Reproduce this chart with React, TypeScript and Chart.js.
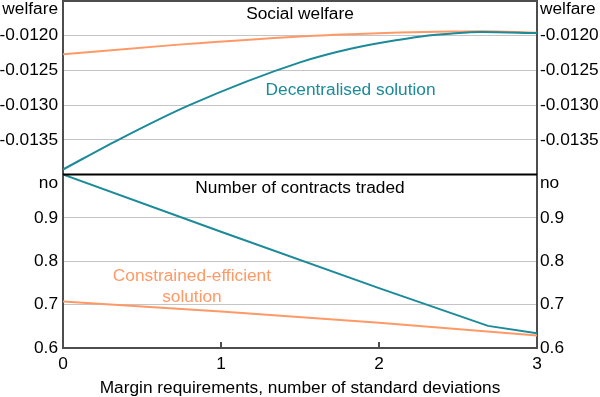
import React, { useEffect, useRef } from 'react';
import { Chart, registerables } from 'chart.js';

Chart.register(...registerables);

// ---- Data ----
const welfareDecX = [0, 0.35, 0.8, 1.5, 1.82, 2.13, 2.3, 2.45, 2.65, 3];
const welfareDecY = [-0.013928, -0.0135, -0.013, -0.012384, -0.012188, -0.012058, -0.012, -0.011971, -0.011948, -0.011962];
const welfareConX = [0, 0.75, 1.5, 1.82, 2.13, 2.45, 2.65, 3];
const welfareConY = [-0.012269, -0.012125, -0.01201, -0.011978, -0.011955, -0.01194, -0.011935, -0.011957];
const contractsDecX = [0, 1, 2, 2.69, 3];
const contractsDecY = [1.0, 0.868, 0.738, 0.651, 0.634];
const contractsConX = [0, 1, 2, 3];
const contractsConY = [0.707, 0.684, 0.658, 0.629];

const xTicks = [0, 1, 2, 3];
const welfareTicks = [-0.014, -0.0135, -0.013, -0.0125, -0.012, -0.0115];
const contractsTicks = [0.6, 0.7, 0.8, 0.9, 1.0];

const TEAL = '#1b8a99';
const ORANGE = '#ff9966';
const FONT = '"Liberation Sans", Arial, sans-serif';
const FS = 17.3;

const pts = (xs: number[], ys: number[]) => xs.map((x, i) => ({ x, y: ys[i] }));

const overlay = {
  id: 'overlay',
  afterDraw(chart: any) {
    const ctx = chart.ctx;
    const { left, right } = chart.chartArea;
    const yTop = chart.scales.yTop;
    const yBot = chart.scales.yBot;
    const xs = chart.scales.x;
    ctx.save();
    ctx.lineCap = 'butt';
    // top border
    ctx.strokeStyle = '#4d4d4d';
    ctx.lineWidth = 2;
    ctx.beginPath();
    ctx.moveTo(left - 1, yTop.top);
    ctx.lineTo(right + 1, yTop.top);
    ctx.stroke();
    // divider
    ctx.strokeStyle = '#000';
    ctx.beginPath();
    ctx.moveTo(left, yTop.bottom);
    ctx.lineTo(right, yTop.bottom);
    ctx.stroke();
    // inner x tick marks
    ctx.strokeStyle = '#4d4d4d';
    xTicks.slice(1, -1).forEach((v) => {
      const px = Math.round(xs.getPixelForValue(v));
      ctx.beginPath();
      ctx.moveTo(px, yBot.bottom);
      ctx.lineTo(px, yBot.bottom - 6);
      ctx.stroke();
    });
    // panel titles
    ctx.font = `${FS}px ${FONT}`;
    ctx.fillStyle = '#000';
    ctx.textBaseline = 'middle';
    ctx.textAlign = 'center';
    const cx = (left + right) / 2;
    ctx.fillText('Social welfare', cx, yTop.top + 13);
    ctx.fillText('Number of contracts traded', cx, yBot.top + 14);
    // units
    ctx.textAlign = 'right';
    ctx.fillText('welfare', left - 5, yTop.top + 8);
    ctx.fillText('no', left - 5, yBot.top + 9);
    ctx.textAlign = 'left';
    ctx.fillText('welfare', right + 3, yTop.top + 8);
    ctx.fillText('no', right + 3, yBot.top + 9);
    // annotations
    ctx.textAlign = 'center';
    ctx.fillStyle = TEAL;
    ctx.fillText('Decentralised solution', xs.getPixelForValue(1.82), yTop.getPixelForValue(-0.012788));
    ctx.fillStyle = ORANGE;
    ctx.fillText('Constrained-efficient', xs.getPixelForValue(0.816), yBot.getPixelForValue(0.766));
    ctx.fillText('solution', xs.getPixelForValue(0.816), yBot.getPixelForValue(0.7175));
    ctx.restore();
  },
};

export default function App() {
  const ref = useRef<HTMLCanvasElement>(null);

  useEffect(() => {
    if (!ref.current) return;
    Chart.defaults.font.family = FONT;
    Chart.defaults.font.size = FS;
    Chart.defaults.color = '#000';

    const yBase = (pos: 'left' | 'right', stack: string, values: number[], cb: (v: number) => string, grid: boolean) => ({
      type: 'linear' as const,
      position: pos,
      stack,
      stackWeight: 1,
      min: values[0],
      max: values[values.length - 1],
      afterBuildTicks: (s: any) => { s.ticks = values.map((v) => ({ value: v })); },
      afterFit: (s: any) => { s.width = 63; s.paddingTop = 0; s.paddingBottom = 0; },
      ticks: { padding: pos === 'left' ? 5 : 3, autoSkip: false, callback: (v: any) => cb(Number(v)), font: { size: FS } },
      grid: { display: true, drawOnChartArea: grid, drawTicks: false, color: '#c4c4c4', lineWidth: 1 },
      border: { display: true, color: '#4d4d4d', width: 2 },
    });

    const welfareCb = (n: number) => (n > -0.01175 || n < -0.01385 ? '' : n.toFixed(4));
    const contractsCb = (n: number) => (n > 0.95 ? '' : n.toFixed(1));

    const chart = new Chart(ref.current, {
      type: 'line',
      data: {
        datasets: [
          { label: 'Decentralised welfare', data: pts(welfareDecX, welfareDecY), yAxisID: 'yTop', borderColor: TEAL, borderWidth: 2, pointRadius: 0, cubicInterpolationMode: 'monotone' },
          { label: 'Constrained welfare', data: pts(welfareConX, welfareConY), yAxisID: 'yTop', borderColor: ORANGE, borderWidth: 2, pointRadius: 0, cubicInterpolationMode: 'monotone' },
          { label: 'Decentralised contracts', data: pts(contractsDecX, contractsDecY), yAxisID: 'yBot', borderColor: TEAL, borderWidth: 2, pointRadius: 0, tension: 0 },
          { label: 'Constrained contracts', data: pts(contractsConX, contractsConY), yAxisID: 'yBot', borderColor: ORANGE, borderWidth: 2, pointRadius: 0, tension: 0 },
        ],
      },
      options: {
        animation: false,
        responsive: false,
        devicePixelRatio: 1,
        layout: { padding: { top: 1, left: 0, right: 0, bottom: 0 } },
        plugins: { legend: { display: false }, tooltip: { enabled: false } },
        scales: {
          x: {
            type: 'linear',
            min: xTicks[0],
            max: xTicks[xTicks.length - 1],
            afterBuildTicks: (s: any) => { s.ticks = xTicks.map((v) => ({ value: v })); },
            afterFit: (s: any) => { s.height = 49; s.paddingLeft = 0; s.paddingRight = 0; },
            ticks: { padding: 6, autoSkip: false, font: { size: FS } },
            grid: { drawOnChartArea: false, drawTicks: false },
            border: { display: true, color: '#4d4d4d', width: 2 },
            title: { display: true, text: 'Margin requirements, number of standard deviations', font: { size: FS }, padding: { top: 2, bottom: -2 } },
          },
          yBot: yBase('left', 'L', contractsTicks, contractsCb, true),
          yTop: yBase('left', 'L', welfareTicks, welfareCb, true),
          yTopR: yBase('right', 'R', welfareTicks, welfareCb, false),
          yBotR: yBase('right', 'R', contractsTicks, contractsCb, false),
        } as any,
      },
      plugins: [overlay],
    });
    return () => chart.destroy();
  }, []);

  return (
    <div style={{ position: 'fixed', left: 0, top: 0, width: 600, height: 397, background: '#fff' }}>
      <canvas ref={ref} width={600} height={397} style={{ width: 600, height: 397, display: 'block' }} />
    </div>
  );
}
